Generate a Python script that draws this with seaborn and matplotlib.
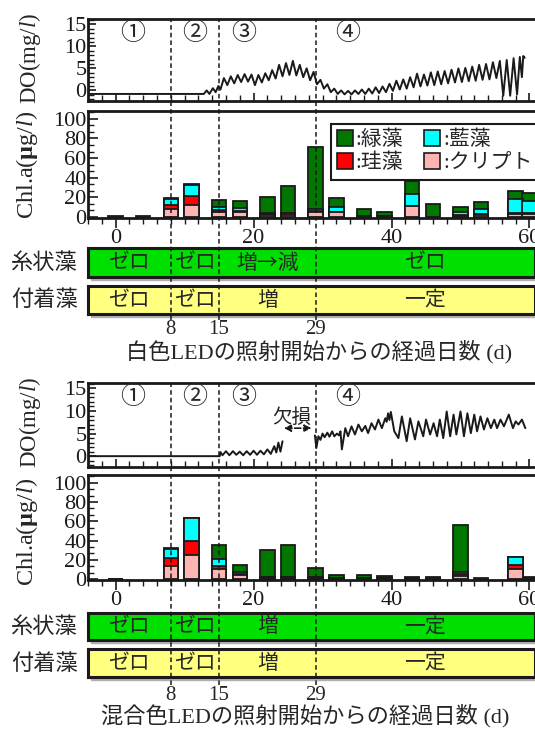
import numpy as np
import pandas as pd
import seaborn as sns
import matplotlib.pyplot as plt
from matplotlib.patches import Patch, Rectangle
from matplotlib.ticker import MultipleLocator, AutoMinorLocator
from matplotlib.transforms import blended_transform_factory

sns.set_theme(style='ticks')
plt.rcParams['font.family'] = ['Liberation Serif', 'Noto Sans CJK JP']
plt.rcParams['mathtext.fontset'] = 'custom'
plt.rcParams['mathtext.rm'] = 'Liberation Serif'
plt.rcParams['mathtext.it'] = 'Liberation Serif:italic'
plt.rcParams['mathtext.bf'] = 'Liberation Serif:bold'

# ---- data ----
phase_days = [8, 15, 29]
phase_marks = ['①', '②', '③', '④']

# DO, white LED (day, mg/l)
do_w_day = [-4, 12.8, 13.2, 13.6, 14.1, 14.5, 14.9, 15.2, 15.7, 16.2, 16.7, 17.2, 17.7, 18.2, 18.7,
            19.2, 19.7, 20.2, 20.7, 21.2, 21.7, 22.2, 22.7, 23.2, 23.7, 24.2, 24.7, 25.2, 25.7,
            26.2, 26.7, 27.2, 27.7, 28.2, 28.7, 29.2, 29.7, 30.2, 30.7, 31.2, 31.7, 32.2, 32.7,
            33.2, 33.7, 34.2, 34.7, 35.2, 35.7, 36.2, 36.7, 37.2, 37.7, 38.2, 38.7, 39.2, 39.7,
            40.2, 40.7, 41.2, 41.7, 42.2, 42.7, 43.2, 43.7, 44.2, 44.7, 45.2, 45.7, 46.2, 46.7,
            47.2, 47.7, 48.2, 48.7, 49.2, 49.7, 50.2, 50.7, 51.2, 51.7, 52.2, 52.7, 53.2, 53.7,
            54.2, 54.7, 55.2, 55.7, 56.2, 56.7, 57.2, 57.7, 58.2, 58.6, 58.9, 59.1, 59.3]
do_w_val = [-0.8, -0.8, 0.0, -0.8, 0.5, -0.4, 1.0, 0.2, 2.8, 1.2, 3.2, 1.6, 3.5, 1.9, 3.7,
            2.0, 3.6, 1.2, 3.5, 1.8, 3.9, 2.3, 4.6, 2.7, 5.8, 3.2, 6.2, 3.5, 6.7,
            3.4, 5.8, 3.0, 5.0, 2.3, 4.2, 1.4, 2.4, 0.4, 1.4, -0.4, 0.4, -0.8, 0.0,
            -0.9, -0.1, -0.9, 0.0, -0.8, 0.2, -0.8, 0.4, -0.7, 0.7, -0.6, 0.9, -0.4, 1.5,
            -0.1, 2.2, 0.2, 2.5, 0.4, 3.0, 0.7, 3.8, 0.9, 3.6, 1.1, 4.1, 1.2, 4.3,
            1.4, 4.4, 1.6, 4.7, 1.8, 5.0, 1.9, 5.1, 2.1, 5.4, 2.2, 5.8, 2.4, 6.0,
            2.5, 6.4, 2.8, 6.7, -1.2, 6.9, -1.2, 7.3, -0.9, 7.6, 3.0, 7.8, 7.4]

# DO, mixed LED: before and after the missing period
do_m_day_a = [-4, 15.1, 15.2, 15.5, 16.0, 16.5, 17.0, 17.5, 18.0, 18.5, 19.0, 19.5, 20.0, 20.5,
              21.0, 21.5, 22.0, 22.5, 23.0, 23.3, 23.6, 23.9, 24.2]
do_m_val_a = [0.0, 0.0, 0.9, 0.2, 1.1, 0.2, 1.1, 0.3, 1.0, 0.2, 1.1, 0.3, 1.2, 0.3,
              1.2, 0.4, 1.5, 0.5, 2.2, 0.8, 3.0, 1.0, 3.3]
do_m_day_b = [28.9, 29.1, 29.4, 29.7, 30.0, 30.3, 30.7, 31.0, 31.4, 31.7, 32.1, 32.4, 32.6, 32.8,
              33.3, 33.7, 34.2, 34.7, 35.2, 35.7, 36.2, 36.6, 37.1, 37.6, 38.1, 38.6, 39.1, 39.3,
              39.5, 39.7, 39.9, 40.4, 41.0, 41.5, 42.2, 42.7, 43.4, 43.9, 44.6, 45.0, 45.6, 46.1,
              46.6, 47.0, 47.5, 48.0, 48.5, 49.0, 49.4, 50.0, 50.5, 51.0, 51.5, 52.0, 52.4, 52.9,
              53.4, 53.9, 54.4, 54.9, 55.3, 55.8, 56.3, 57.0, 57.6, 58.0, 58.4, 58.9, 59.4]
do_m_val_b = [4.6, 1.8, 4.4, 3.6, 5.0, 4.2, 5.2, 4.3, 5.5, 4.4, 5.0, 4.6, 5.5, 1.5,
              6.2, 4.4, 6.6, 4.8, 7.0, 5.5, 6.7, 5.1, 7.3, 5.9, 8.1, 6.2, 8.4, 7.6,
              9.5, 8.0, 9.8, 5.5, 4.0, 8.8, 3.3, 8.4, 3.7, 7.7, 4.4, 8.1, 4.8, 7.3,
              4.4, 8.1, 4.0, 9.9, 4.4, 9.2, 4.8, 9.9, 4.4, 9.5, 5.1, 9.2, 5.5, 8.8,
              5.9, 8.4, 6.2, 8.1, 6.2, 8.1, 6.6, 9.2, 6.2, 7.7, 7.0, 8.1, 6.2]

# Chl.a (ug/l), white LED
chl_w_day = [0, 4, 8, 11, 15, 18, 22, 25, 29, 32, 36, 39, 43, 46, 50, 53, 58, 60]
crypt_w = [0, 0, 8, 12.5, 5, 5, 2, 2.5, 5.5, 5, 0.5, 0.3, 11, 0.5, 1.5, 2.5, 3.5, 3.5]
diatom_w = [0, 0, 4, 8.5, 2, 1.5, 1.5, 1.5, 0.5, 0.5, 0.5, 0.3, 0.3, 0, 0.5, 0.5, 0.3, 0.3]
cyano_w = [0, 0, 6, 12, 3, 2.5, 0.3, 0.5, 2.5, 5, 0.3, 0.2, 12, 0, 3.5, 5, 14.5, 12.5]
green_w = [0.8, 0.8, 1.5, 1, 7.5, 7, 17, 27.5, 62.5, 8.5, 6.5, 4, 13.5, 12.5, 5, 7.5, 8.5, 8]

# Chl.a (ug/l), mixed LED
chl_m_day = [0, 8, 11, 15, 18, 22, 25, 29, 32, 36, 39, 43, 46, 50, 53, 58, 60]
crypt_m = [0, 14, 25, 10, 4.5, 1.5, 1.5, 1, 0.5, 0.5, 0.3, 0.3, 0.3, 3, 0.2, 10.5, 0.3]
diatom_m = [0, 8, 14, 4, 1, 0.8, 0.8, 1, 0.5, 0.5, 0.3, 0.3, 0.3, 2.5, 0.2, 4.5, 0.3]
cyano_m = [0, 9.5, 24, 6.5, 1.5, 0.2, 0.2, 0.3, 0.2, 0.2, 0.2, 0.2, 0.2, 1.5, 0.1, 8, 0.2]
green_m = [0.5, 0.5, 0.5, 15, 8, 28, 32.7, 9, 3.3, 3.3, 2, 1.7, 1.2, 49, 1, 0.3, 1.7]

algae_labels = [':緑藻', ':藍藻', ':珪藻', ':クリプト']
algae_colors = ['#007800', '#00ffff', '#ff0000', '#ffb4b4']

band_rows = ['糸状藻', '付着藻']
band_text_w = [['ゼロ', 'ゼロ', '増→減', 'ゼロ'], ['ゼロ', 'ゼロ', '増', '一定']]
band_text_m = [['ゼロ', 'ゼロ', '増', '一定'], ['ゼロ', 'ゼロ', '増', '一定']]
band_colors = ['#00e000', '#ffff80']

xlabels = ['白色LEDの照射開始からの経過日数 (d)', '混合色LEDの照射開始からの経過日数 (d)']

XLIM = (-4, 60.8)
JP = ['Noto Sans CJK JP', 'Liberation Serif']

fig = plt.figure(figsize=(5.35, 7.29), dpi=100)
FW, FH = 535.0, 729.0


def rect(top, bottom, left=88, right=FW):
    return [left / FW, 1 - bottom / FH, (right - left) / FW, (bottom - top) / FH]


def frame(ax, lw=2.0):
    for s in ['left', 'top', 'bottom']:
        ax.spines[s].set_linewidth(lw)
        ax.spines[s].set_color('k')
    ax.spines['right'].set_visible(False)


def draw_block(lay, do_parts, chl_day, crypt, diatom, cyano, green, band_text, xlabel, legend):
    # DO panel
    ax = fig.add_axes(rect(*lay['do']))
    for d, v in do_parts:
        sns.lineplot(x=d, y=v, ax=ax, color='k', lw=1.4, estimator=None, sort=False)
    ax.set_xlim(XLIM)
    ax.set_ylim(-2.4, 16.2)
    ax.yaxis.set_major_locator(MultipleLocator(5))
    ax.yaxis.set_minor_locator(MultipleLocator(1))
    ax.xaxis.set_major_locator(MultipleLocator(20))
    ax.xaxis.set_minor_locator(MultipleLocator(2))
    ax.tick_params(which='both', direction='in', top=False, right=False, colors='k')
    ax.tick_params(which='major', length=6, width=1.2)
    ax.tick_params(which='minor', length=4, width=1.0)
    ax.tick_params(axis='x', labelbottom=False)
    ax.tick_params(axis='y', labelsize=16, pad=1)
    ax.set_xlabel('')
    ax.set_ylabel('')
    frame(ax)
    for m, x in zip(phase_marks, [2.5, 11.5, 18.5, 33.7]):
        ax.text(x, 13.0, m, fontsize=18, ha='center', va='center', family=JP)
    fig.text(30 / FW, 1 - lay['do_lab'] / FH, 'DO(mg/$\\mathit{l}$)', rotation=90,
             ha='center', va='center', fontsize=16.5)
    do_ax = ax

    # Chl.a panel: stacked by overlaying cumulative totals
    ax = fig.add_axes(rect(*lay['chl']))
    df = pd.DataFrame({'day': chl_day, 'crypt': crypt, 'diatom': diatom, 'cyano': cyano, 'green': green})
    levels = [df[['crypt', 'diatom', 'cyano', 'green']].sum(axis=1),
              df[['crypt', 'diatom', 'cyano']].sum(axis=1),
              df[['crypt', 'diatom']].sum(axis=1),
              df['crypt']]
    for lev, c in zip(levels, algae_colors):
        sns.barplot(x=df['day'], y=lev, ax=ax, native_scale=True, color=c, saturation=1,
                    edgecolor='k', linewidth=1.3, width=1.05, errorbar=None)
    ax.set_xlim(XLIM)
    ax.set_ylim(-1, 108)
    ax.yaxis.set_major_locator(MultipleLocator(20))
    ax.yaxis.set_minor_locator(AutoMinorLocator(3))
    ax.xaxis.set_major_locator(MultipleLocator(20))
    ax.xaxis.set_minor_locator(MultipleLocator(2))
    ax.tick_params(which='both', top=False, right=False, colors='k')
    ax.tick_params(axis='y', which='both', direction='in')
    ax.tick_params(axis='x', which='both', direction='out')
    ax.tick_params(which='major', length=7, width=1.2)
    ax.tick_params(which='minor', length=4, width=1.0)
    ax.tick_params(axis='y', labelsize=16, pad=1)
    ax.tick_params(axis='x', labelsize=16, pad=1)
    ax.set_xlabel('')
    ax.set_ylabel('')
    frame(ax)
    fig.text(27 / FW, 1 - lay['chl_lab'] / FH, 'Chl.a($\\mathbf{\\mu}$g/$\\mathit{l}$)', rotation=90,
             ha='center', va='center', fontsize=17.5)
    if legend:
        order = [0, 2, 1, 3]
        handles = [Patch(facecolor=algae_colors[i], edgecolor='k', linewidth=1.2) for i in order]
        labels = [algae_labels[i] for i in order]
        leg = ax.legend(handles, labels, ncol=2, loc='upper left', bbox_to_anchor=(0.52, 0.975),
                        frameon=True, fancybox=False, edgecolor='k', fontsize=15,
                        handlelength=0.75, handleheight=0.75, handletextpad=0.15,
                        columnspacing=1.0, borderpad=0.3, labelspacing=0.15, framealpha=1)
        leg.get_frame().set_linewidth(1.5)

    # status bands, with a light drop shadow
    edges = [XLIM[0]] + phase_days + [XLIM[1]]
    for key, row, texts, col in zip(['band1', 'band2'], band_rows, band_text, band_colors):
        top, bot = lay[key]
        fig.add_artist(Rectangle((91 / FW, 1 - (bot + 3) / FH), 1, (bot - top) / FH,
                                 transform=fig.transFigure, color='#b0b0b0', zorder=0))
        ax = fig.add_axes(rect(top, bot))
        ax.barh([0] * 4, np.diff(edges), left=edges[:-1], height=1, color=col, edgecolor='none')
        ax.set_xlim(XLIM)
        ax.set_ylim(-0.5, 0.5)
        ax.set_xticks([])
        ax.set_yticks([])
        for s in ax.spines.values():
            s.set_linewidth(2.2)
            s.set_color('k')
        for i, t in enumerate(texts):
            ax.text((edges[i] + edges[i + 1]) / 2, 0, t, ha='center', va='center',
                    fontsize=15, family=JP)
        fig.text(78 / FW, 1 - (top + bot) / 2 / FH, row, ha='right', va='center',
                 fontsize=16, family=JP)

    # phase dividers
    ov = fig.add_axes(rect(*lay['ov']))
    ov.set_xlim(XLIM)
    ov.axis('off')
    ov.patch.set_alpha(0)
    for d in phase_days:
        ov.axvline(d, color='k', lw=1.1, ls=(0, (3, 2)))
    tr = blended_transform_factory(ov.transData, fig.transFigure)
    for d in phase_days:
        ov.text(d, 1 - lay['num_y'] / FH, str(d), transform=tr, ha='center', va='center', fontsize=15)
    fig.text(lay['xlab_x'] / FW, 1 - lay['xlab_y'] / FH, xlabel, ha='center', va='center', fontsize=16)
    return do_ax


lay_w = dict(do=(19, 101), chl=(111, 218), band1=(248, 277), band2=(286, 314), ov=(19, 320),
             num_y=330, xlab_y=352, xlab_x=319, do_lab=58, chl_lab=165)
lay_m = dict(do=(383, 467), chl=(475, 580), band1=(613, 640), band2=(649, 677), ov=(383, 685),
             num_y=695, xlab_y=716, xlab_x=305, do_lab=422, chl_lab=532)

draw_block(lay_w, [(do_w_day, do_w_val)], chl_w_day, crypt_w, diatom_w, cyano_w, green_w,
           band_text_w, xlabels[0], True)
ax_m = draw_block(lay_m, [(do_m_day_a, do_m_val_a), (do_m_day_b, do_m_val_b)], chl_m_day,
                  crypt_m, diatom_m, cyano_m, green_m, band_text_m, xlabels[1], False)

# missing-data note
ax_m.text(25.6, 8.5, '欠損', fontsize=14, ha='center', va='center', family=JP)
ax_m.annotate('', xy=(24.0, 6.2), xytext=(28.8, 6.2),
              arrowprops=dict(arrowstyle='<|-|>', linestyle='--', color='k', lw=1.2, mutation_scale=10))

fig.savefig('out.png', dpi=100)
